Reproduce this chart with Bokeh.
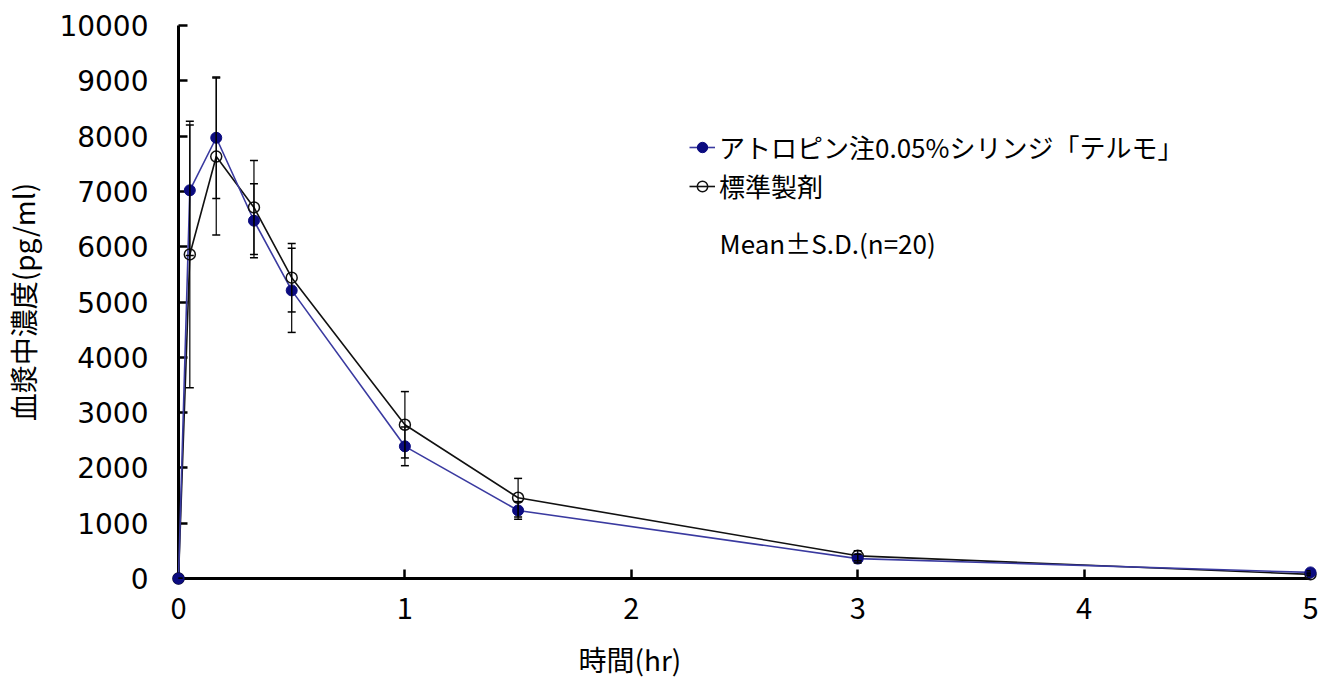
from bokeh.plotting import figure
from bokeh.models import (ColumnDataSource, Whisker, TeeHead, FixedTicker, Legend,
                          LegendItem, Label, Range1d, Title)
from bokeh.embed import file_html
from bokeh.resources import INLINE

# ---- data ----
times = [0, 0.05, 0.1667, 0.3333, 0.5, 1.0, 1.5, 3.0, 5.0]
test_mean = [0, 7020, 7970, 6470, 5210, 2390, 1230, 360, 110]
test_sd = [0, 1180, 1100, 670, 760, 350, 160, 80, 30]
ref_mean = [0, 5860, 7630, 6710, 5440, 2780, 1460, 410, 75]
ref_sd = [0, 2410, 1420, 850, 620, 600, 350, 90, 25]
test_name = "アトロピン注0.05%シリンジ「テルモ」"
ref_name = "標準製剤"
note = "Mean\u00b1S.D.(n=20)"
x_ticks = [0, 1, 2, 3, 4, 5]
y_ticks = [0, 1000, 2000, 3000, 4000, 5000, 6000, 7000, 8000, 9000, 10000]
x_title = "時間(hr)"
y_title = "血漿中濃度(pg/ml)"

FONT = "Noto Sans CJK JP"
NUMFONT = "DejaVu Sans"
BLUE_FILL = "#0b0b80"
BLUE_LINE = "#3a3aa0"
BLACK = "#111111"

src_t = ColumnDataSource(dict(
    x=times, y=test_mean,
    lo=[m - s for m, s in zip(test_mean, test_sd)],
    hi=[m + s for m, s in zip(test_mean, test_sd)]))
src_r = ColumnDataSource(dict(
    x=times, y=ref_mean,
    lo=[m - s for m, s in zip(ref_mean, ref_sd)],
    hi=[m + s for m, s in zip(ref_mean, ref_sd)]))

p = figure(width=1320, height=694, output_backend="svg", toolbar_location=None,
           x_range=Range1d(0, 5), y_range=Range1d(0, 10000),
           min_border_left=177, min_border_right=10, min_border_top=25,
           min_border_bottom=116)
p.outline_line_color = None
p.grid.visible = False
p.background_fill_color = "white"

for src in (src_r, src_t):
    w = Whisker(source=src, base="x", lower="lo", upper="hi",
                line_color="black", line_width=1.2, level="overlay",
                upper_head=TeeHead(size=8, line_color="black", line_width=1.5),
                lower_head=TeeHead(size=8, line_color="black", line_width=1.5))
    p.add_layout(w)

lr = p.line("x", "y", source=src_r, line_color=BLACK, line_width=1.6, level="overlay")
lt = p.line("x", "y", source=src_t, line_color=BLUE_LINE, line_width=1.6, level="overlay")
mr = p.scatter("x", "y", source=src_r, size=11, marker="circle", level="overlay",
               fill_color="white", fill_alpha=0.0, line_color=BLACK, line_width=1.5)
mt = p.scatter("x", "y", source=src_t, size=11, marker="circle", level="overlay",
               fill_color=BLUE_FILL, line_color=BLUE_FILL)

# axes
for ax in (p.xaxis[0], p.yaxis[0]):
    ax.axis_line_width = 3
    ax.axis_line_color = "black"
    ax.major_tick_line_width = 2.5
    ax.major_tick_line_color = "black"
    ax.major_tick_in = 9
    ax.major_tick_out = 0
    ax.minor_tick_line_color = None
    ax.major_label_text_color = "black"
    ax.axis_label_text_font = FONT
    ax.axis_label_text_font_style = "normal"
    ax.axis_label_text_color = "black"
    ax.axis_label_text_font_size = "28px"

p.xaxis[0].major_label_text_font = FONT
p.xaxis[0].major_label_text_font_size = "29px"
p.yaxis[0].major_label_text_font = NUMFONT
p.yaxis[0].major_label_text_font_size = "28px"
p.xaxis[0].ticker = FixedTicker(ticks=x_ticks)
p.yaxis[0].ticker = FixedTicker(ticks=y_ticks)
p.xaxis[0].major_label_standoff = 19
p.yaxis[0].major_label_standoff = 30
p.yaxis[0].axis_label = y_title
p.yaxis[0].axis_label_standoff = 13

# x title placed where the reference has it (left of centre)
p.add_layout(Title(text=x_title, align="left", offset=400, text_font=FONT,
                   text_font_size="28px", text_font_style="normal",
                   text_color="black", standoff=31), "below")

legend = Legend(items=[LegendItem(label=test_name, renderers=[lt, mt]),
                       LegendItem(label=ref_name, renderers=[lr, mr])],
                location=(507, 370), orientation="vertical",
                label_text_font=FONT, label_text_font_size="26px",
                label_text_color="black", glyph_width=26, glyph_height=34,
                label_height=34, spacing=2, label_standoff=4, padding=4,
                margin=0, border_line_alpha=0, background_fill_alpha=0)
p.add_layout(legend)

p.add_layout(Label(x=2.39, y=6070, text=note, text_align="left",
                   text_baseline="middle", text_font=FONT,
                   text_font_size="26px", text_color="black"))

open("out.html", "w").write(file_html(p, INLINE))
